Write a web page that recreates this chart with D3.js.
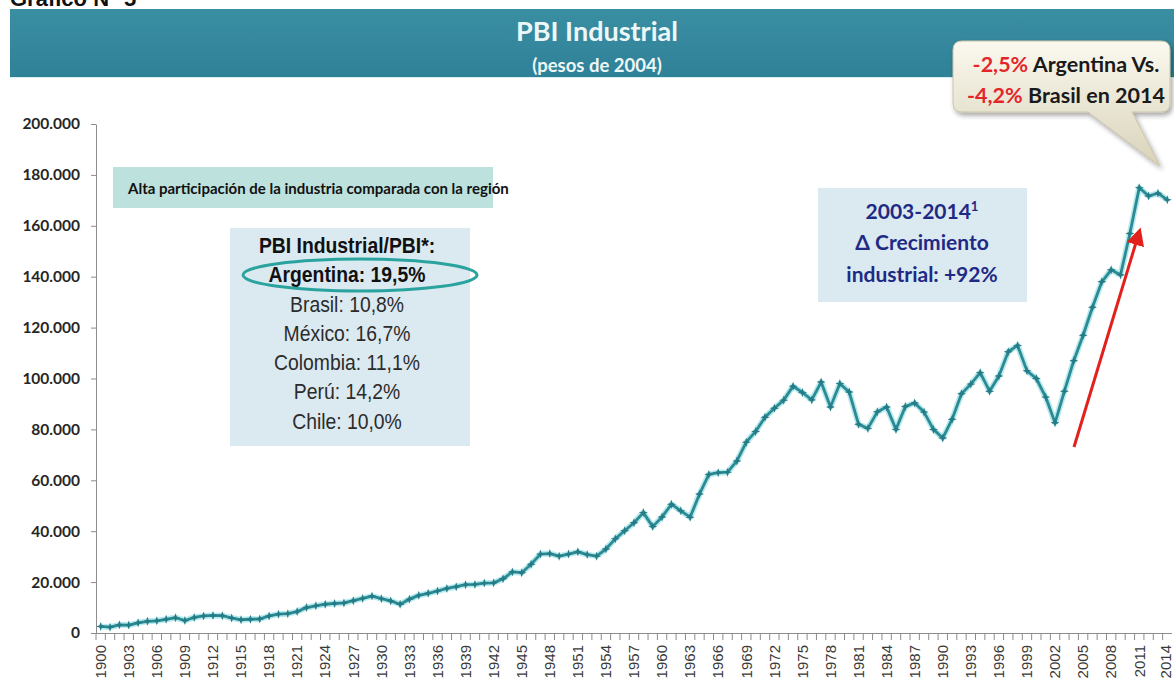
<!DOCTYPE html>
<html>
<head>
<meta charset="utf-8">
<script src="https://cdn.jsdelivr.net/npm/d3@7"></script>
<style>
body { margin: 0; background: #fff; }
svg { display: block; }
.cal { font-family: Lato, "Open Sans", sans-serif; font-weight: 700; }
.narrow { font-family: "Liberation Sans", Arial, sans-serif; }
.ytick text { font-family: Lato, sans-serif; font-weight: 700; font-size: 15.5px; fill: #262626; }
.xlab { font-family: "Liberation Sans", Arial, sans-serif; font-size: 15px; fill: #3a3a3a; }
</style>
</head>
<body>
<div id="graphdiv"></div>
<script>
document.addEventListener("DOMContentLoaded", init);

// categories: years 1900-2014
var years = [1900,1901,1902,1903,1904,1905,1906,1907,1908,1909,
    1910,1911,1912,1913,1914,1915,1916,1917,1918,1919,
    1920,1921,1922,1923,1924,1925,1926,1927,1928,1929,
    1930,1931,1932,1933,1934,1935,1936,1937,1938,1939,
    1940,1941,1942,1943,1944,1945,1946,1947,1948,1949,
    1950,1951,1952,1953,1954,1955,1956,1957,1958,1959,
    1960,1961,1962,1963,1964,1965,1966,1967,1968,1969,
    1970,1971,1972,1973,1974,1975,1976,1977,1978,1979,
    1980,1981,1982,1983,1984,1985,1986,1987,1988,1989,
    1990,1991,1992,1993,1994,1995,1996,1997,1998,1999,
    2000,2001,2002,2003,2004,2005,2006,2007,2008,2009,
    2010,2011,2012,2013,2014];

// PBI industrial, pesos de 2004
var pbiIndustrial = [2600,2300,3200,3100,4000,4600,4800,5400,6000,4900,
    6100,6700,6900,6800,5900,5200,5400,5500,6700,7400,
    7600,8400,10000,10700,11300,11600,11800,12700,13600,14500,
    13500,12600,11300,13300,14800,15600,16500,17500,18200,19000,
    19100,19600,19700,21300,24000,23700,27000,31000,31200,30200,
    31000,31900,30800,30200,33000,37000,40200,43300,47300,41800,
    45600,50600,48000,45500,54600,62300,63000,63200,67600,75000,
    79200,84800,88300,91500,97000,94500,91600,98600,88800,98000,
    94700,82000,80400,86900,88800,80000,89000,90400,86800,80000,
    76600,84000,94000,97800,102300,95000,101000,110500,113000,103000,
    100000,92700,82600,95000,107000,117000,128000,138000,142700,140700,
    157000,175000,171700,172800,170200];

var xTickYears = [1900,1903,1906,1909,1912,1915,1918,1921,1924,1927,1930,
    1933,1936,1939,1942,1945,1948,1951,1954,1957,1960,1963,1966,1969,
    1972,1975,1978,1981,1984,1987,1990,1993,1996,1999,2002,2005,2008,2011,2014];
var yTicks = [0,20000,40000,60000,80000,100000,120000,140000,160000,180000,200000];

var shareLines = ["PBI Industrial/PBI*:", "Argentina: 19,5%", "Brasil: 10,8%", "México: 16,7%",
    "Colombia: 11,1%", "Perú: 14,2%", "Chile: 10,0%"];

var esLocale = d3.formatLocale({decimal: ",", thousands: ".", grouping: [3], currency: ["$", ""]});
var fmt = esLocale.format(",d");

function init() {
    var svg = d3.select("#graphdiv").append("svg").attr("width", 1174).attr("height", 689);
    var defs = svg.append("defs");

    var bg = defs.append("linearGradient").attr("id", "bannerGrad").attr("x1", 0).attr("y1", 0).attr("x2", 0).attr("y2", 1);
    bg.append("stop").attr("offset", "0%").attr("stop-color", "#3a8ea2");
    bg.append("stop").attr("offset", "100%").attr("stop-color", "#2f8197");

    var cg = defs.append("linearGradient").attr("id", "calloutGrad").attr("x1", 0).attr("y1", 0).attr("x2", 0).attr("y2", 1);
    cg.append("stop").attr("offset", "0%").attr("stop-color", "#fbf9ef");
    cg.append("stop").attr("offset", "100%").attr("stop-color", "#d9d3ba");

    var sh = defs.append("filter").attr("id", "shadow").attr("x", "-10%").attr("y", "-10%").attr("width", "130%").attr("height", "140%");
    sh.append("feDropShadow").attr("dx", 2).attr("dy", 3).attr("stdDeviation", 2.5).attr("flood-color", "#000").attr("flood-opacity", 0.35);

    defs.append("marker").attr("id", "redArrow").attr("markerWidth", 6).attr("markerHeight", 6)
        .attr("refX", 3).attr("refY", 3).attr("orient", "auto").attr("markerUnits", "strokeWidth")
        .append("path").attr("d", "M0,0 L6,3 L0,6 Z").attr("fill", "#e3211c");

    // header (top of the caption is cut off in the source picture)
    svg.append("text").attr("x", 10).attr("y", 6).attr("font-family", "Liberation Sans, Arial").attr("font-weight", "bold")
        .attr("font-size", 22).attr("fill", "#111").text("Gráfico N° 5");
    svg.append("rect").attr("x", 10).attr("y", 9).attr("width", 1164).attr("height", 68).attr("fill", "url(#bannerGrad)");
    svg.append("line").attr("x1", 10).attr("x2", 1174).attr("y1", 77.5).attr("y2", 77.5).attr("stroke", "#d4eef2");
    svg.append("text").attr("class", "cal").attr("x", 597).attr("y", 41).attr("text-anchor", "middle")
        .attr("font-size", 27).attr("fill", "#eef7f8").text("PBI Industrial");
    svg.append("text").attr("class", "cal").attr("x", 597).attr("y", 72).attr("text-anchor", "middle")
        .attr("font-size", 18.5).attr("fill", "#eef7f8").text("(pesos de 2004)");

    // scales
    var x = d3.scaleBand().domain(years).range([96, 1172]);
    var cx = function(d) { return x(d) + x.bandwidth() / 2; };
    var y = d3.scaleLinear().domain([0, 200000]).range([633, 124]);

    // y axis
    var yAxis = svg.append("g").attr("class", "ytick").attr("transform", "translate(96,0)")
        .call(d3.axisLeft(y).tickValues(yTicks).tickSize(5).tickSizeOuter(0).tickPadding(11).tickFormat(fmt));
    yAxis.selectAll("path, line").attr("stroke", "#8c8c8c");

    // x axis
    var xa = svg.append("g").attr("class", "xaxis");
    xa.append("line").attr("x1", 96).attr("x2", 1172).attr("y1", 633.5).attr("y2", 633.5).attr("stroke", "#8c8c8c");
    xa.selectAll("line.tk").data(years).enter().append("line").attr("class", "tk")
        .attr("x1", function(d) { return x(d); }).attr("x2", function(d) { return x(d); })
        .attr("y1", 633).attr("y2", 640).attr("stroke", "#8c8c8c");
    xa.selectAll("text").data(xTickYears).enter().append("text").attr("class", "xlab")
        .attr("text-anchor", "end").attr("dy", "0.35em")
        .attr("transform", function(d) { return "translate(" + Math.min(cx(d), 1166) + ",645) rotate(-90)"; })
        .text(function(d) { return d; });

    // series
    var pts = years.map(function(yr, i) { return {year: yr, value: pbiIndustrial[i]}; });
    var line = d3.line().x(function(d) { return cx(d.year); }).y(function(d) { return y(d.value); });
    svg.append("path").datum(pts).attr("d", line).attr("fill", "none").attr("stroke", "#a6e4e8")
        .attr("stroke-width", 6).attr("stroke-linejoin", "round").attr("opacity", 0.8);
    svg.append("path").datum(pts).attr("d", line).attr("fill", "none").attr("stroke", "#2a8b94")
        .attr("stroke-width", 2.8).attr("stroke-linejoin", "round");
    var star = "M0,-4.5 L1.2,-1.2 L4.5,0 L1.2,1.2 L0,4.5 L-1.2,1.2 L-4.5,0 L-1.2,-1.2 Z";
    svg.selectAll("path.mk").data(pts).enter().append("path").attr("class", "mk").attr("d", star)
        .attr("transform", function(d) { return "translate(" + cx(d.year) + "," + y(d.value) + ")"; })
        .attr("fill", "#257c86");

    // box: alta participacion
    svg.append("rect").attr("x", 113).attr("y", 167).attr("width", 380).attr("height", 41).attr("fill", "#bde1dd");
    svg.append("text").attr("class", "cal").attr("x", 128).attr("y", 194).attr("font-size", 15)
        .attr("fill", "#111").text("Alta participación de la industria comparada con la región");

    // box: PBI Industrial/PBI (condensed look)
    svg.append("rect").attr("x", 230).attr("y", 228).attr("width", 240).attr("height", 218).attr("fill", "#dbe9f0");
    var sg = svg.append("g").attr("transform", "translate(347,0) scale(0.9,1)");
    sg.selectAll("text.share").data(shareLines).enter().append("text").attr("class", "share narrow")
        .attr("x", 0).attr("y", function(d, i) { return 253 + i * 29.3; }).attr("text-anchor", "middle")
        .attr("font-size", 21.5).attr("font-weight", function(d, i) { return i < 2 ? "bold" : "normal"; })
        .attr("fill", function(d, i) { return i < 2 ? "#111" : "#2b2b2b"; })
        .text(function(d) { return d; });
    svg.append("ellipse").attr("cx", 360).attr("cy", 275).attr("rx", 117).attr("ry", 16)
        .attr("fill", "none").attr("stroke", "#2aa39e").attr("stroke-width", 3);

    // box: 2003-2014
    svg.append("rect").attr("x", 818).attr("y", 188).attr("width", 209).attr("height", 114).attr("fill", "#dbe9f0");
    var t1 = svg.append("text").attr("class", "cal").attr("x", 922).attr("y", 219).attr("text-anchor", "middle")
        .attr("font-size", 21).attr("fill", "#1f2a86");
    t1.append("tspan").text("2003-2014");
    t1.append("tspan").attr("font-size", 13).attr("dy", -8).text("1");
    svg.append("text").attr("class", "cal").attr("x", 922).attr("y", 250).attr("text-anchor", "middle")
        .attr("font-size", 21).attr("fill", "#1f2a86").text("Δ Crecimiento");
    svg.append("text").attr("class", "cal").attr("x", 922).attr("y", 282).attr("text-anchor", "middle")
        .attr("font-size", 21).attr("fill", "#1f2a86").text("industrial: +92%");

    // red arrow
    svg.append("line").attr("x1", 1074).attr("y1", 447).attr("x2", 1138).attr("y2", 236)
        .attr("stroke", "#e3211c").attr("stroke-width", 3).attr("marker-end", "url(#redArrow)");

    // callout
    var r = 9, bx0 = 953, by0 = 41, bx1 = 1170, by1 = 112;
    var cp = "M" + (bx0 + r) + "," + by0 + " L" + (bx1 - r) + "," + by0 +
        " Q" + bx1 + "," + by0 + " " + bx1 + "," + (by0 + r) +
        " L" + bx1 + "," + (by1 - r) + " Q" + bx1 + "," + by1 + " " + (bx1 - r) + "," + by1 +
        " L1132," + by1 + " L1160,166 L1088," + by1 +
        " L" + (bx0 + r) + "," + by1 + " Q" + bx0 + "," + by1 + " " + bx0 + "," + (by1 - r) +
        " L" + bx0 + "," + (by0 + r) + " Q" + bx0 + "," + by0 + " " + (bx0 + r) + "," + by0 + " Z";
    svg.append("path").attr("d", cp).attr("fill", "url(#calloutGrad)").attr("stroke", "#cbc4a6")
        .attr("stroke-width", 1).attr("filter", "url(#shadow)");
    var c1 = svg.append("text").attr("class", "cal").attr("x", 1066).attr("y", 72).attr("text-anchor", "middle").attr("font-size", 21.5);
    c1.append("tspan").attr("fill", "#e4262b").text("-2,5%");
    c1.append("tspan").attr("fill", "#1a1a1a").text(" Argentina Vs.");
    var c2 = svg.append("text").attr("class", "cal").attr("x", 1066).attr("y", 103).attr("text-anchor", "middle").attr("font-size", 21.5);
    c2.append("tspan").attr("fill", "#e4262b").text("-4,2%");
    c2.append("tspan").attr("fill", "#1a1a1a").text(" Brasil en 2014");
}
</script>
</body>
</html>
